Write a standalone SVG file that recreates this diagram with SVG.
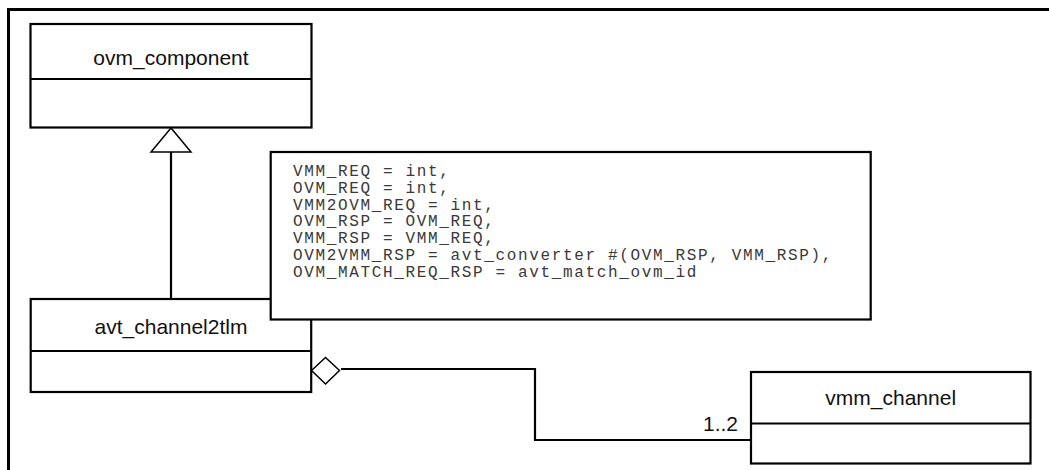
<svg xmlns="http://www.w3.org/2000/svg" width="1049" height="470" viewBox="0 0 1049 470">
<style>
.box{fill:#fff;stroke:#000;stroke-width:2.2}
.div{stroke:#000;stroke-width:2.2}
.name{font-family:"Liberation Sans",Arial,sans-serif;font-size:21px;fill:#111;text-anchor:middle}
.code{font-family:"Liberation Mono","Courier New",monospace;font-size:16px;letter-spacing:1.65px;fill:#3a3a3a}
.conn{fill:none;stroke:#000;stroke-width:2.2}
</style>
<rect x="0" y="0" width="1049" height="470" fill="#fff"/>
<path d="M8.5 470 V9.5 H1049" fill="none" stroke="#000" stroke-width="3"/>
<g id="connectors">
<line class="conn" x1="171" y1="152" x2="171" y2="299"/>
<polygon points="171,128 151,152 191,152" fill="#fff" stroke="#000" stroke-width="1.5"/>
<polyline class="conn" points="341,369 535,369 535,440 751,440"/>
<polygon points="311.5,370.5 325.5,357.5 339.5,370.5 325.5,384" fill="#fff" stroke="#000" stroke-width="1.5"/>
<text x="738" y="431" font-family="Liberation Sans,Arial,sans-serif" font-size="21" fill="#111" text-anchor="end">1..2</text>
</g>
<g id="ovm_component">
<rect class="box" x="30.5" y="24" width="281" height="103.5"/>
<line class="div" x1="30.5" y1="79" x2="311.5" y2="79"/>
<text class="name" x="171" y="65">ovm_component</text>
</g>
<g id="avt_channel2tlm">
<rect class="box" x="30.7" y="299" width="280.5" height="93"/>
<line class="div" x1="30.7" y1="351" x2="311.2" y2="351"/>
<text class="name" x="171" y="334">avt_channel2tlm</text>
</g>
<g id="note">
<rect class="box" x="270.7" y="152" width="600" height="167.5"/>
<text class="code" x="293" y="176">VMM_REQ = int,</text>
<text class="code" x="293" y="192.8">OVM_REQ = int,</text>
<text class="code" x="293" y="209.6">VMM2OVM_REQ = int,</text>
<text class="code" x="293" y="226.4">OVM_RSP = OVM_REQ,</text>
<text class="code" x="293" y="243.2">VMM_RSP = VMM_REQ,</text>
<text class="code" x="293" y="260">OVM2VMM_RSP = avt_converter #(OVM_RSP, VMM_RSP),</text>
<text class="code" x="293" y="276.8">OVM_MATCH_REQ_RSP = avt_match_ovm_id</text>
</g>
<g id="vmm_channel">
<rect class="box" x="751" y="372" width="279.5" height="91.5"/>
<line class="div" x1="751" y1="423.5" x2="1030.5" y2="423.5"/>
<text class="name" x="890.7" y="405">vmm_channel</text>
</g>
</svg>
